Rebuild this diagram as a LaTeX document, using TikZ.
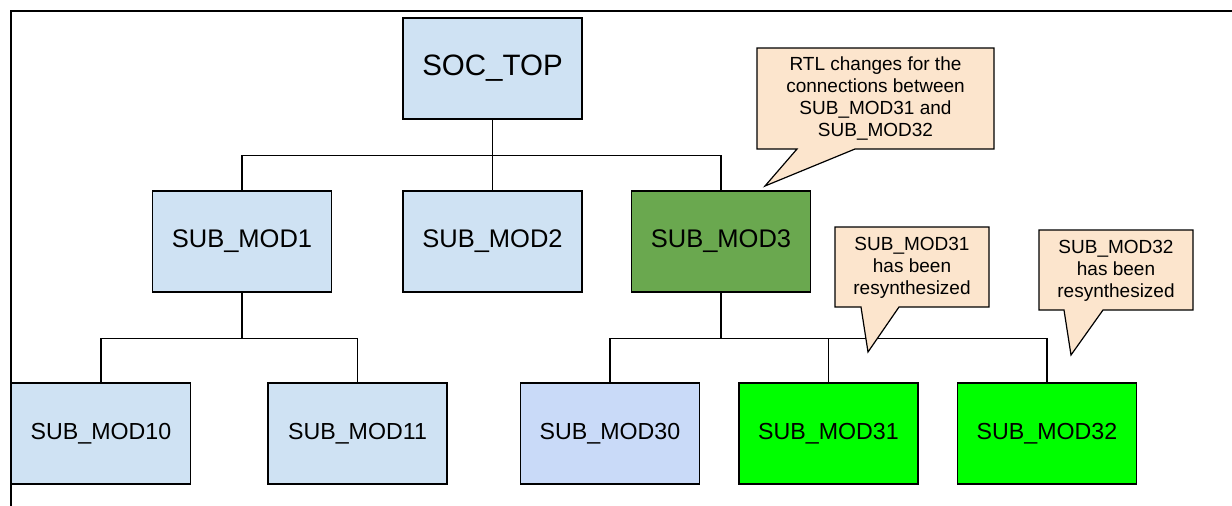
\documentclass[tikz,border=0pt]{standalone}
\usepackage{fontspec}
\setmainfont{Liberation Sans}
\usepackage{tikz}

\definecolor{boxblue}{HTML}{CFE2F3}
\definecolor{boxcorn}{HTML}{C9DAF8}
\definecolor{boxgreen}{HTML}{6AA84F}
\definecolor{boxlime}{HTML}{00FF00}
\definecolor{notepeach}{HTML}{FCE5CD}

\begin{document}
\begin{tikzpicture}[x=1pt,y=-1pt,
    modbox/.style={draw=black,line width=1.2pt,fill=boxblue,minimum width=179pt,
      minimum height=101pt,inner sep=0pt,font=\fontsize{25.5}{30}\selectfont},
    leafbox/.style={modbox,font=\fontsize{23.2}{28}\selectfont},
    notebox/.style={draw=black,line width=1.2pt,fill=notepeach},
    notetext/.style={align=center,inner sep=0pt,font=\fontsize{19}{22}\selectfont},
    wire/.style={draw=black,line width=1.2pt}]

    \useasboundingbox (0,0) rectangle (1232,506);

    \draw[line width=1.2pt] (1232,11) -- (11,11) -- (11,506);

    \node[modbox,font=\fontsize{29.5}{34}\selectfont] (soctop) at (492.5,68.5) {SOC\_TOP};

    \node[modbox] (mod1) at (242,241.5) {SUB\_MOD1};

    \node[modbox] (mod2) at (492.5,241.5) {SUB\_MOD2};

    \node[modbox,fill=boxgreen] (mod3) at (721,241.5) {SUB\_MOD3};

    \node[leafbox] (mod10) at (101,433.5) {SUB\_MOD10};

    \node[leafbox] (mod11) at (357.5,433.5) {SUB\_MOD11};

    \node[leafbox,fill=boxcorn] (mod30) at (610,433.5) {SUB\_MOD30};

    \node[leafbox,fill=boxlime] (mod31) at (828.5,433.5) {SUB\_MOD31};

    \node[leafbox,fill=boxlime] (mod32) at (1047,433.5) {SUB\_MOD32};



    \draw[wire] (soctop.south) -- ++(0,35.5) -| (mod1.north);

    \draw[wire] (soctop.south) -- (mod2.north);

    \draw[wire] (soctop.south) -- ++(0,35.5) -| (mod3.north);

    \draw[wire] (mod1.south) -- ++(0,46) -| (mod10.north);

    \draw[wire] (mod1.south) -- ++(0,46) -| (mod11.north);

    \draw[wire] (mod3.south) -- ++(0,45.5) -| (mod30.north);

    \draw[wire] (mod3.south) -- ++(0,45.5) -| (mod31.north);

    \draw[wire] (mod3.south) -- ++(0,45.5) -| (mod32.north);



    \filldraw[notebox] (757,48) -- (994,48) -- (994,149) -- (855,149)
      -- (765,186) -- (797,149) -- (757,149) -- cycle;

    \node[notetext] (note3) at (875.5,98.5)
      {RTL changes for the\\connections between\\SUB\_MOD31 and\\SUB\_MOD32};

    \filldraw[notebox] (835,227) -- (989,227) -- (989,307) -- (899,307)
      -- (868,352) -- (861,307) -- (835,307) -- cycle;

    \node[notetext] (note31) at (912,267.5)
      {SUB\_MOD31\\has been\\resynthesized};

    \filldraw[notebox] (1039,230) -- (1193,230) -- (1193,310) -- (1103,310)
      -- (1071,355) -- (1064,310) -- (1039,310) -- cycle;

    \node[notetext] (note32) at (1116,270.5)
      {SUB\_MOD32\\has been\\resynthesized};

  \end{tikzpicture}
\end{document}
